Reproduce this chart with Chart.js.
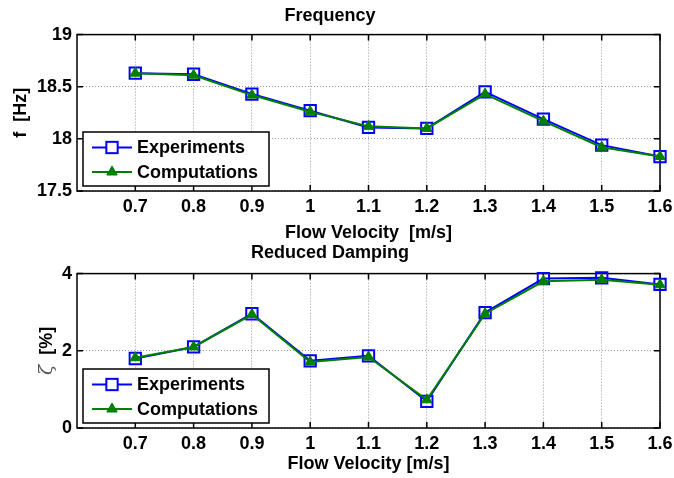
<!DOCTYPE html>
<html>
<head>
<meta charset="utf-8">
<script src="https://cdn.jsdelivr.net/npm/chart.js@4.4.1/dist/chart.umd.min.js"></script>
<style>
  html, body { margin: 0; padding: 0; background: #fff; }
  .wrap { position: relative; width: 674px; height: 478px; }
  canvas { display: block; position: absolute; left: 0; }
  #freqChart { top: 0; }
  #dampChart { top: 240px; }
</style>
</head>
<body>
<div class="wrap">
  <canvas id="freqChart" width="674" height="250"></canvas>
  <canvas id="dampChart" width="674" height="238"></canvas>
</div>
<script>
// flow velocities [m/s]
const velocities = [0.7, 0.8, 0.9, 1.0, 1.1, 1.2, 1.3, 1.4, 1.5, 1.6];
const velocityTicks = [0.7, 0.8, 0.9, 1.0, 1.1, 1.2, 1.3, 1.4, 1.5, 1.6];
const velocityLabels = ["0.7", "0.8", "0.9", "1", "1.1", "1.2", "1.3", "1.4", "1.5", "1.6"];

// frequency [Hz]
const freqExperiments = [18.63, 18.62, 18.43, 18.27, 18.11, 18.10, 18.45, 18.19, 17.94, 17.83];
const freqComputations = [18.63, 18.61, 18.42, 18.26, 18.12, 18.10, 18.43, 18.17, 17.92, 17.83];
const freqTicks = [17.5, 18, 18.5, 19];
const freqLabels = ["17.5", "18", "18.5", "19"];

// reduced damping [%]
const dampExperiments = [1.80, 2.10, 2.96, 1.74, 1.87, 0.69, 2.99, 3.87, 3.89, 3.72];
const dampComputations = [1.82, 2.10, 2.94, 1.71, 1.84, 0.73, 2.96, 3.80, 3.84, 3.71];
const dampTicks = [0, 2, 4];
const dampLabels = ["0", "2", "4"];

const FONT = "'Liberation Sans', Arial, Helvetica, sans-serif";
Chart.defaults.font.family = FONT;
Chart.defaults.font.size = 18;
Chart.defaults.font.weight = "bold";
Chart.defaults.color = "#000";

const toPoints = (ys) => velocities.map((v, i) => ({ x: v, y: ys[i] }));

// box, inward ticks, legend and optional mixed-font y label
const matlabAxes = {
  id: "matlabAxes",
  beforeDatasetsDraw(chart) {
    const { ctx, chartArea: a, scales } = chart;
    ctx.save();
    ctx.strokeStyle = "#000";
    ctx.lineWidth = 1.5;
    ctx.beginPath();
    scales.x.ticks.forEach((t) => {
      const px = scales.x.getPixelForValue(t.value);
      ctx.moveTo(px, a.bottom);
      ctx.lineTo(px, a.bottom - 6);
      ctx.moveTo(px, a.top);
      ctx.lineTo(px, a.top + 6);
    });
    scales.y.ticks.forEach((t) => {
      const py = scales.y.getPixelForValue(t.value);
      ctx.moveTo(a.left, py);
      ctx.lineTo(a.left + 6, py);
      ctx.moveTo(a.right, py);
      ctx.lineTo(a.right - 6, py);
    });
    ctx.stroke();
    ctx.strokeRect(a.left, a.top, a.right - a.left, a.bottom - a.top);
    ctx.restore();
  },
  afterDatasetsDraw(chart) {
    const { ctx, chartArea: a } = chart;
    const lw = 186, lh = 54;
    const lx = a.left + 6;
    const ly = a.bottom - 5 - lh;
    ctx.save();
    ctx.fillStyle = "#fff";
    ctx.fillRect(lx, ly, lw, lh);
    ctx.strokeStyle = "#000";
    ctx.lineWidth = 1.5;
    ctx.strokeRect(lx, ly, lw, lh);
    chart.data.datasets.forEach((ds, i) => {
      const cy = ly + 15.5 + i * 24.5;
      const mx = lx + 29;
      ctx.strokeStyle = ds.borderColor;
      ctx.lineWidth = ds.borderWidth;
      ctx.beginPath();
      ctx.moveTo(lx + 9, cy);
      ctx.lineTo(lx + 49, cy);
      ctx.stroke();
      ctx.lineWidth = ds.pointBorderWidth;
      if (ds.pointStyle === "rect") {
        const s = Math.SQRT1_2 * ds.pointRadius;
        ctx.fillStyle = "#fff";
        ctx.fillRect(mx - s, cy - s, 2 * s, 2 * s);
        ctx.strokeRect(mx - s, cy - s, 2 * s, 2 * s);
      } else {
        const r = ds.pointRadius;
        ctx.fillStyle = ds.pointBackgroundColor;
        ctx.beginPath();
        ctx.moveTo(mx, cy - r);
        ctx.lineTo(mx + r * Math.sin(Math.PI / 3), cy + r / 2);
        ctx.lineTo(mx - r * Math.sin(Math.PI / 3), cy + r / 2);
        ctx.closePath();
        ctx.fill();
        ctx.stroke();
      }
      ctx.fillStyle = "#000";
      ctx.font = "bold 18px " + FONT;
      ctx.textAlign = "left";
      ctx.textBaseline = "middle";
      ctx.fillText(ds.label, lx + 54, cy + 1);
    });
    ctx.restore();
  },
  afterDraw(chart, args, opts) {
    if (!opts.ylabel) return;
    const { ctx, chartArea: a } = chart;
    const parts = opts.ylabel;
    ctx.save();
    ctx.translate(opts.ylabelX, (a.top + a.bottom) / 2);
    ctx.rotate(-Math.PI / 2);
    ctx.textBaseline = "middle";
    ctx.textAlign = "left";
    let total = 0;
    parts.forEach((p) => {
      ctx.font = p.font;
      total += ctx.measureText(p.text).width;
    });
    let x = -total / 2;
    parts.forEach((p) => {
      ctx.font = p.font;
      ctx.fillStyle = p.color;
      ctx.fillText(p.text, x, 0);
      x += ctx.measureText(p.text).width;
    });
    ctx.restore();
  },
};

function makeChart(id, cfg) {
  return new Chart(document.getElementById(id), {
    type: "line",
    data: {
      datasets: [
        {
          label: "Experiments",
          data: toPoints(cfg.experiments),
          borderColor: "#0000ff",
          borderWidth: 2,
          pointStyle: "rect",
          pointRadius: 8,
          pointBorderWidth: 2,
          pointBorderColor: "#0000ff",
          pointBackgroundColor: "rgba(0,0,0,0)",
          tension: 0,
          clip: false,
          order: 2,
        },
        {
          label: "Computations",
          data: toPoints(cfg.computations),
          borderColor: "#008000",
          borderWidth: 2,
          pointStyle: "triangle",
          pointRadius: 6,
          pointBorderWidth: 1,
          pointBorderColor: "#008000",
          pointBackgroundColor: "#008000",
          tension: 0,
          clip: false,
          order: 1,
        },
      ],
    },
    options: {
      responsive: false,
      animation: false,
      devicePixelRatio: 1,
      layout: { padding: { left: 0, right: 14, top: 0, bottom: 0 } },
      plugins: {
        legend: { display: false },
        tooltip: { enabled: false },
        title: {
          display: true,
          text: cfg.title,
          font: { size: 18, weight: "bold", lineHeight: 1.2 },
          padding: cfg.titlePadding,
        },
        matlabAxes: { ylabel: cfg.ylabel, ylabelX: cfg.ylabelX },
      },
      scales: {
        x: {
          type: "linear",
          min: 0.6,
          max: 1.6,
          afterBuildTicks: (s) => {
            s.ticks = velocityTicks.map((v) => ({ value: v }));
          },
          afterFit: (s) => {
            s.height = cfg.xHeight;
            s.paddingLeft = 0;
            s.paddingRight = 0;
          },
          ticks: {
            padding: 5,
            autoSkip: false,
            maxRotation: 0,
            font: { size: 18, weight: "bold", lineHeight: 1.2 },
            callback: (v, i) => velocityLabels[i],
          },
          grid: {
            color: "#9a9a9a",
            lineWidth: 1,
            drawTicks: false,
          },
          border: { display: false, dash: [1, 2] },
          title: {
            display: true,
            text: cfg.xtitle,
            font: { size: 18, weight: "bold", lineHeight: 1 },
            padding: { top: 0, bottom: cfg.xTitleBottom },
          },
        },
        y: {
          type: "linear",
          min: cfg.yTicks[0],
          max: cfg.yTicks[cfg.yTicks.length - 1],
          afterBuildTicks: (s) => {
            s.ticks = cfg.yTicks.map((v) => ({ value: v }));
          },
          afterFit: (s) => {
            s.width = 77;
            s.paddingTop = 0;
            s.paddingBottom = 0;
          },
          ticks: {
            padding: 5,
            font: { size: 18, weight: "bold", lineHeight: 1.2 },
            callback: (v, i) => cfg.yLabels[i],
          },
          grid: {
            color: "#9a9a9a",
            lineWidth: 1,
            drawTicks: false,
          },
          border: { display: false, dash: [1, 2] },
          title: {
            display: !!cfg.ytitle,
            text: cfg.ytitle || "",
            font: { size: 18, weight: "bold", lineHeight: 1 },
            padding: { top: 12, bottom: 0 },
          },
        },
      },
    },
    plugins: [matlabAxes],
  });
}

makeChart("freqChart", {
  title: "Frequency",
  titlePadding: { top: 5, bottom: 8 },
  experiments: freqExperiments,
  computations: freqComputations,
  yTicks: freqTicks,
  yLabels: freqLabels,
  ytitle: "f  [Hz]",
  xtitle: "Flow Velocity  [m/s]",
  xHeight: 59,
  xTitleBottom: 8,
});

makeChart("dampChart", {
  title: "Reduced Damping",
  titlePadding: { top: 2, bottom: 10 },
  experiments: dampExperiments,
  computations: dampComputations,
  yTicks: dampTicks,
  yLabels: dampLabels,
  ytitle: null,
  ylabel: [
    { text: "\u03B6", font: "italic 19px 'DejaVu Serif', serif", color: "#555" },
    { text: "  [%]", font: "bold 18px " + FONT, color: "#000" },
  ],
  ylabelX: 47,
  xtitle: "Flow Velocity [m/s]",
  xHeight: 50,
  xTitleBottom: 5,
});
</script>
</body>
</html>
